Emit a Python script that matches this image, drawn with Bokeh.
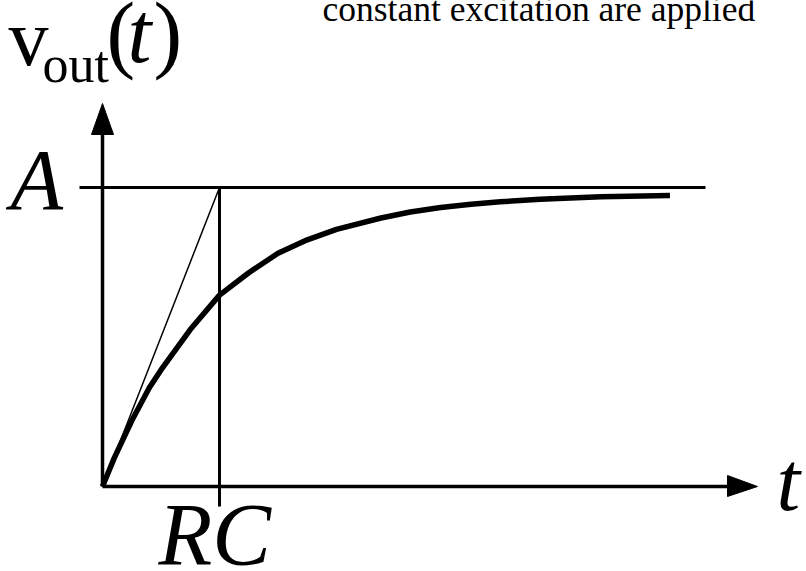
from bokeh.plotting import figure
from bokeh.models import Range1d
from bokeh.core.properties import value
from bokeh.embed import file_html
from bokeh.resources import INLINE

# Step response of an RC circuit: time in units of RC, output in units of A
t_rc = [0.0, 0.1, 0.25, 0.4, 0.5, 0.75, 1.0, 1.25, 1.5, 1.75, 2.0,
        2.38, 2.63, 2.89, 3.15, 3.40, 3.74, 4.26, 4.85]
v_out = [0.0, 0.095, 0.22, 0.33, 0.39, 0.525, 0.64, 0.715, 0.78, 0.825, 0.86,
         0.898, 0.918, 0.933, 0.944, 0.952, 0.961, 0.969, 0.973]

# tangent at the origin reaching A at t = RC
tangent_t = [0.0, 1.0]
tangent_v = [0.0, 1.0]

level_a = 1.0
time_const = 1.0

# pixel scale of the drawing (px per RC, px per A) and origin in pixels
W, H = 806, 571
X0, Y0 = 102, 486
SX, SY = 117.0, 299.0

def tx(px):
    return (px - X0) / SX

def vy(py):
    return (Y0 - py) / SY

p = figure(width=W, height=H, output_backend="svg", toolbar_location=None,
           x_range=Range1d(tx(0), tx(W)), y_range=Range1d(vy(H), vy(0)),
           min_border=0, outline_line_color=None)
p.axis.visible = False
p.grid.visible = False
p.background_fill_color = "white"
p.border_fill_color = "white"

ink = "black"

# level A
p.line([tx(79), tx(705)], [level_a, level_a], line_color=ink, line_width=3)
# axes
p.line([0, 0], [0, vy(132)], line_color=ink, line_width=3.5)
p.line([0, tx(728)], [0, 0], line_color=ink, line_width=3.5)
# arrow heads
p.patch([tx(X0 - 11), tx(X0 + 11), 0], [vy(134), vy(134), vy(103)], fill_color=ink, line_color=ink)
p.patch([tx(727), tx(727), tx(757)], [vy(475), vy(496), 0], fill_color=ink, line_color=ink)
# marker at t = RC
p.line([time_const, time_const], [level_a, vy(506)], line_color=ink, line_width=3)
# tangent
p.line(tangent_t, tangent_v, line_color=ink, line_width=1.5)
# response curve
p.line(t_rc, v_out, line_color=ink, line_width=5.5, line_join="round")

serif = value("Liberation Serif")

def label(x_px, base_px, txt, size, style="normal", font=serif):
    # place the glyph so that its baseline lands on base_px
    y_px = base_px - 0.38 * size
    p.text(x=[tx(x_px)], y=[vy(y_px)], text=[txt], text_font=font,
           text_font_size=f"{size}px", text_font_style=style,
           text_color=ink, text_baseline="alphabetic", text_align="left")

label(322, 22, "constant excitation are applied", 35.5)
label(10, 212, "A", 86, "italic")
label(158, 567, "RC", 88, "italic")
label(776, 513, "t", 85, "italic")
label(8, 68, "v", 80)
label(42, 84, "out", 52)
label(106, 65, "(", 86)
label(127, 65, "t", 86, "italic")
label(153, 65, ")", 86)

open("out.html", "w").write(file_html(p, INLINE))
